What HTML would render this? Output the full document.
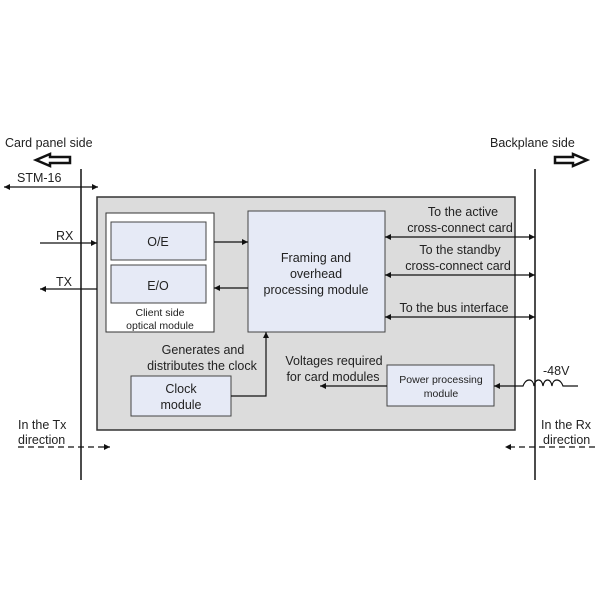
<!DOCTYPE html>
<html><head><style>
body{margin:0;background:#fff}
svg text{font-family:"Liberation Sans",Arial,sans-serif;fill:#222}
</style></head><body>
<svg width="600" height="600" viewBox="0 0 600 600" xmlns="http://www.w3.org/2000/svg">
<defs>
<marker id="a" viewBox="0 0 10 10" refX="10" refY="5" markerWidth="8" markerHeight="6" orient="auto-start-reverse" markerUnits="userSpaceOnUse"><path d="M0,0 L10,5 L0,10z" fill="#111"/></marker>
</defs>
<rect x="97" y="197" width="418" height="233" fill="#dcdcdc" stroke="#333" stroke-width="1.5"/>
<rect x="106" y="213" width="108" height="119" fill="#fff" stroke="#333"/>
<rect x="111" y="222" width="95" height="38" fill="#e6eaf6" stroke="#444"/>
<rect x="111" y="265" width="95" height="38" fill="#e6eaf6" stroke="#444"/>
<rect x="248" y="211" width="137" height="121" fill="#e6eaf6" stroke="#444"/>
<rect x="131" y="376" width="100" height="40" fill="#e6eaf6" stroke="#444"/>
<rect x="387" y="365" width="107" height="41" fill="#e6eaf6" stroke="#444"/>
<line x1="81" y1="169" x2="81" y2="480" stroke="#111" stroke-width="1.5"/>
<line x1="535" y1="169" x2="535" y2="480" stroke="#111" stroke-width="1.5"/>
<g stroke="#111" stroke-width="1.2" fill="none">
<line x1="4" y1="187" x2="98" y2="187" marker-start="url(#a)" marker-end="url(#a)"/>
<line x1="40" y1="243" x2="97" y2="243" marker-end="url(#a)"/>
<line x1="97" y1="289" x2="40" y2="289" marker-end="url(#a)"/>
<line x1="214" y1="242" x2="248" y2="242" marker-end="url(#a)"/>
<line x1="248" y1="288" x2="214" y2="288" marker-end="url(#a)"/>
<line x1="385" y1="237" x2="535" y2="237" marker-start="url(#a)" marker-end="url(#a)"/>
<line x1="385" y1="275" x2="535" y2="275" marker-start="url(#a)" marker-end="url(#a)"/>
<line x1="385" y1="317" x2="535" y2="317" marker-start="url(#a)" marker-end="url(#a)"/>
<polyline points="231,396 266,396 266,332" marker-end="url(#a)"/>
<line x1="387" y1="386" x2="320" y2="386" marker-end="url(#a)"/>
<path d="M578,386 L563,386 C560,378 553,378 552,386 C551,378 544,378 543,386 C542,378 535,378 534,386 C533,378 526,378 523,386 L494,386" marker-end="url(#a)"/>
<line x1="18" y1="447" x2="110" y2="447" stroke-dasharray="6,4" marker-end="url(#a)"/>
<line x1="595" y1="447" x2="505" y2="447" stroke-dasharray="6,4" marker-end="url(#a)"/>
</g>
<path d="M36,160 L50,154 L50,157 L70,157 L70,163 L50,163 L50,166z" fill="#fff" stroke="#111" stroke-width="2.5"/>
<path d="M587,160 L573,154 L573,157 L555,157 L555,163 L573,163 L573,166z" fill="#fff" stroke="#111" stroke-width="2.5"/>
<g font-size="12.5">
<text x="5" y="147">Card panel side</text>
<text x="490" y="147">Backplane side</text>
<text x="17" y="182">STM-16</text>
<text x="56" y="240">RX</text>
<text x="56" y="286">TX</text>
<text x="158" y="246" text-anchor="middle">O/E</text>
<text x="158" y="290" text-anchor="middle">E/O</text>
<text x="160" y="316" text-anchor="middle" font-size="10.5">Client side</text>
<text x="160" y="329" text-anchor="middle" font-size="10.5">optical module</text>
<text x="316" y="262" text-anchor="middle">Framing and</text>
<text x="316" y="278" text-anchor="middle">overhead</text>
<text x="316" y="294" text-anchor="middle">processing module</text>
<text x="463" y="216" text-anchor="middle">To the active</text>
<text x="460" y="232" text-anchor="middle">cross-connect card</text>
<text x="460" y="254" text-anchor="middle">To the standby</text>
<text x="458" y="270" text-anchor="middle">cross-connect card</text>
<text x="454" y="312" text-anchor="middle">To the bus interface</text>
<text x="203" y="354" text-anchor="middle">Generates and</text>
<text x="202" y="370" text-anchor="middle">distributes the clock</text>
<text x="334" y="365" text-anchor="middle">Voltages required</text>
<text x="333" y="381" text-anchor="middle">for card modules</text>
<text x="181" y="393" text-anchor="middle">Clock</text>
<text x="181" y="409" text-anchor="middle">module</text>
<text x="441" y="383" text-anchor="middle" font-size="10.5">Power processing</text>
<text x="441" y="397" text-anchor="middle" font-size="10.5">module</text>
<text x="543" y="375">-48V</text>
<text x="18" y="429">In the Tx</text>
<text x="18" y="444">direction</text>
<text x="541" y="429">In the Rx</text>
<text x="543" y="444">direction</text>
</g>
</svg>
</body></html>
